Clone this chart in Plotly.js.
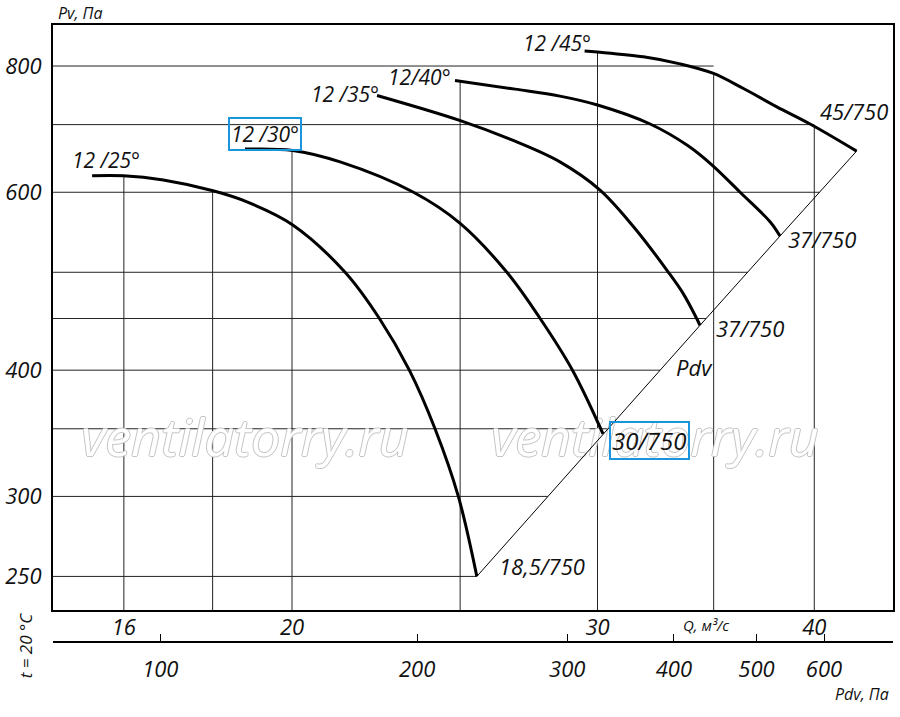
<!DOCTYPE html>
<html><head><meta charset="utf-8">
<script src="https://cdn.plot.ly/plotly-3.0.1.min.js"></script>
<style>html,body{margin:0;padding:0;background:#fff;}#chart{width:900px;height:717px;}</style>
</head><body><div id="chart"></div>
<script>
// ---- axis ticks / grid values ----
const qTicks = [16, 20, 30, 40];
const pvTicks = [250, 300, 400, 600, 800];
const pdvTicks = [100, 200, 300, 400, 500, 600];
const qGrid = [16, 18, 20, 25, 30, 35, 40];
const pvGrid = [250, 300, 350, 400, 450, 500, 600, 700, 800];

// ---- curve labels ----
const curveLabels = ['12 /25°', '12 /30°', '12 /35°', '12/40°', '12 /45°'];
const endLabels = ['18,5/750', '30/750', '37/750', '37/750', '45/750'];

// ---- fan curves: Q (m3/s) vs Pv (Pa) ----
const q25 = [15.34, 15.99, 16.86, 18.01, 18.84, 20.02, 21.46, 22.46, 23.37, 24.18, 24.94, 25.56];
const pv25 = [623, 623, 617, 602, 587, 557, 500, 450, 400, 350, 300, 250];
const q30 = [18.79, 20.02, 21.32, 23.50, 25.00, 26.60, 27.80, 29.02, 30.22];
const pv30 = [662, 660, 643, 600, 559, 500, 450, 400, 346];
const q35 = [22.39, 25.03, 26.89, 28.54, 30.10, 31.46, 32.96, 33.62, 34.22, 34.37];
const pv35 = [748, 706, 674, 643, 603, 555, 500, 476, 450, 443];
const q40 = [24.83, 26.89, 28.54, 30.00, 32.17, 33.83, 34.94, 36.25, 37.72, 38.22];
const pv40 = [774, 759, 747, 732, 701, 667, 638, 600, 561, 543];
const q45 = [29.49, 29.99, 31.88, 33.47, 34.96, 36.41, 38.06, 39.78, 42.31];
const pv45 = [828, 826, 817, 804, 787, 760, 729, 701, 659];

const curvesQ = [q25, q30, q35, q40, q45];
const curvesPv = [pv25, pv30, pv35, pv40, pv45];

const watermark = 'ventilatorry.ru';

// ---- axis ranges (log10) ----
const xRange = [1.16328, 1.64743];
const yRange = [2.3647, 2.9437];
const x2Range = [1.8742, 2.859];

const FONT = 'Open Sans, Noto Sans, sans-serif';
const L = Math.log10;

function logInterp(xs, ys, x) {
  for (let i = 0; i < xs.length - 1; i++) {
    const a = xs[i], b = xs[i + 1];
    if ((x - a) * (x - b) <= 0) {
      const t = (L(x) - L(a)) / (L(b) - L(a));
      return Math.pow(10, L(ys[i]) + t * (L(ys[i + 1]) - L(ys[i])));
    }
  }
  return null;
}
const fracX = f => Math.pow(10, xRange[0] + f * (xRange[1] - xRange[0]));
const fracY = f => Math.pow(10, yRange[0] + f * (yRange[1] - yRange[0]));

const endsQ = curvesQ.map(a => a[a.length - 1]);
const endsPv = curvesPv.map(a => a[a.length - 1]);

function envelope(q) {
  let best = null;
  curvesQ.forEach((qs, i) => {
    const v = logInterp(qs, curvesPv[i], q);
    if (v !== null && (best === null || v > best)) best = v;
  });
  return best;
}
function hEnd(p) {
  if (p <= endsPv[endsPv.length - 1] + 1e-9) return logInterp(endsPv, endsQ, p);
  const qc = logInterp(pv45, q45, p);
  return qGrid.find(g => g >= qc) || qc;
}

const traces = [];
const gridStyle = {color: 'rgb(35,35,35)', width: 1};
const yBottom = Math.pow(10, yRange[0]);
const xLeft = Math.pow(10, xRange[0]);
qGrid.forEach(q => traces.push({x: [q, q], y: [yBottom, envelope(q)], mode: 'lines', line: gridStyle, hoverinfo: 'skip', showlegend: false}));
pvGrid.forEach(p => traces.push({x: [xLeft, hEnd(p)], y: [p, p], mode: 'lines', line: gridStyle, hoverinfo: 'skip', showlegend: false}));

// watermark (drawn under the curves)
const wmColor = '#c4c4c4';
traces.push({
  x: [fracX(0.2286), fracX(0.7167)], y: [fracY(0.2855), fracY(0.2855)],
  text: [watermark, watermark], mode: 'text', textposition: 'middle center',
  textfont: {family: FONT, size: 52, color: '#ffffff', style: 'italic',
    shadow: `1px 0 0 ${wmColor}, -1px 0 0 ${wmColor}, 0 1px 0 ${wmColor}, 0 -1px 0 ${wmColor}`},
  hoverinfo: 'skip', showlegend: false, cliponaxis: false
});

// Pdv line through curve end points
traces.push({x: endsQ, y: endsPv, mode: 'lines', line: {color: '#000', width: 1}, hoverinfo: 'skip', showlegend: false});

curvesQ.forEach((qs, i) => traces.push({
  x: qs, y: curvesPv[i], mode: 'lines', name: curveLabels[i],
  line: {color: '#000', width: 3, shape: 'spline', smoothing: 1}, showlegend: false
}));

// dummy trace to register the Pdv axis
traces.push({x: [], y: [], xaxis: 'x2', yaxis: 'y', mode: 'lines', showlegend: false, hoverinfo: 'skip'});

const tf = (s) => ({family: FONT, size: s, color: '#111', style: 'italic'});
const BLUE = '#1a95dd';
const ann = [];
const startShift = [[14, 16], [20, 15], [-32, 2], [-35, 4], [-28, 8]];
const endShift = [[65, 10], [46, -7], [50, -3], [42, -3], [-3, 40]];
curvesQ.forEach((qs, i) => {
  const a = {x: L(qs[0]), y: L(curvesPv[i][0]), xref: 'x', yref: 'y', text: curveLabels[i], showarrow: false,
    xanchor: 'center', yanchor: 'middle',
    xshift: startShift[i][0], yshift: startShift[i][1], font: tf(21)};
  if (i === 1) { a.bordercolor = BLUE; a.borderwidth = 2; a.borderpad = 1; }
  ann.push(a);
  const n = qs.length - 1;
  const b = {x: L(qs[n]), y: L(curvesPv[i][n]), xref: 'x', yref: 'y', text: endLabels[i], showarrow: false,
    xanchor: 'center', yanchor: 'middle',
    xshift: endShift[i][0], yshift: endShift[i][1], font: tf(22)};
  if (i === 1) { b.bordercolor = BLUE; b.borderwidth = 2; b.borderpad = 1; b.font = tf(24); }
  ann.push(b);
});
const pa = (x, y, text, size, extra) => Object.assign({xref: 'paper', yref: 'paper', x, y, text,
  showarrow: false, xanchor: 'center', yanchor: 'middle', font: tf(size)}, extra || {});
ann.push(pa(0.7631, 0.4457, 'Pdv', 22));
ann.push(pa(0.0321, 1.0194, 'Pv, Па', 16));
ann.push(pa(0.7774, 0.0276, 'Q, м³/с', 15));
ann.push(pa(0.9631, -0.0843, 'Pdv, Па', 16));
ann.push(pa(-0.033, -0.005, 't = 20 °C', 17, {textangle: -90}));

const layout = {
  width: 900, height: 717,
  margin: {l: 53, r: 7, t: 25, b: 75},
  paper_bgcolor: '#fff', plot_bgcolor: '#fff',
  showlegend: false,
  font: {family: FONT, color: '#111'},
  xaxis: {type: 'log', range: xRange, domain: [0, 1], anchor: 'y', showgrid: false, zeroline: false,
    showline: true, linecolor: '#000', linewidth: 2, mirror: true, ticks: '',
    tickvals: qTicks, ticktext: qTicks.map(String), tickfont: tf(22), ticklabelstandoff: -3},
  yaxis: {type: 'log', range: yRange, domain: [0.05186, 1], showgrid: false, zeroline: false,
    showline: true, linecolor: '#000', linewidth: 2, mirror: true, ticks: '',
    tickvals: pvTicks, ticktext: pvTicks.map(String), tickfont: tf(22), ticklabelstandoff: 5},
  xaxis2: {type: 'log', range: x2Range, overlaying: 'x', anchor: 'free', position: 0, side: 'bottom',
    showgrid: false, zeroline: false, showline: true, linecolor: '#000', linewidth: 2,
    ticks: 'inside', ticklen: 7, tickwidth: 1, tickcolor: '#000',
    tickvals: pdvTicks, ticktext: pdvTicks.map(String), tickfont: tf(22), ticklabelstandoff: 8},
  annotations: ann
};

Plotly.newPlot('chart', traces, layout, {staticPlot: true, displayModeBar: false});
</script>
</body></html>
